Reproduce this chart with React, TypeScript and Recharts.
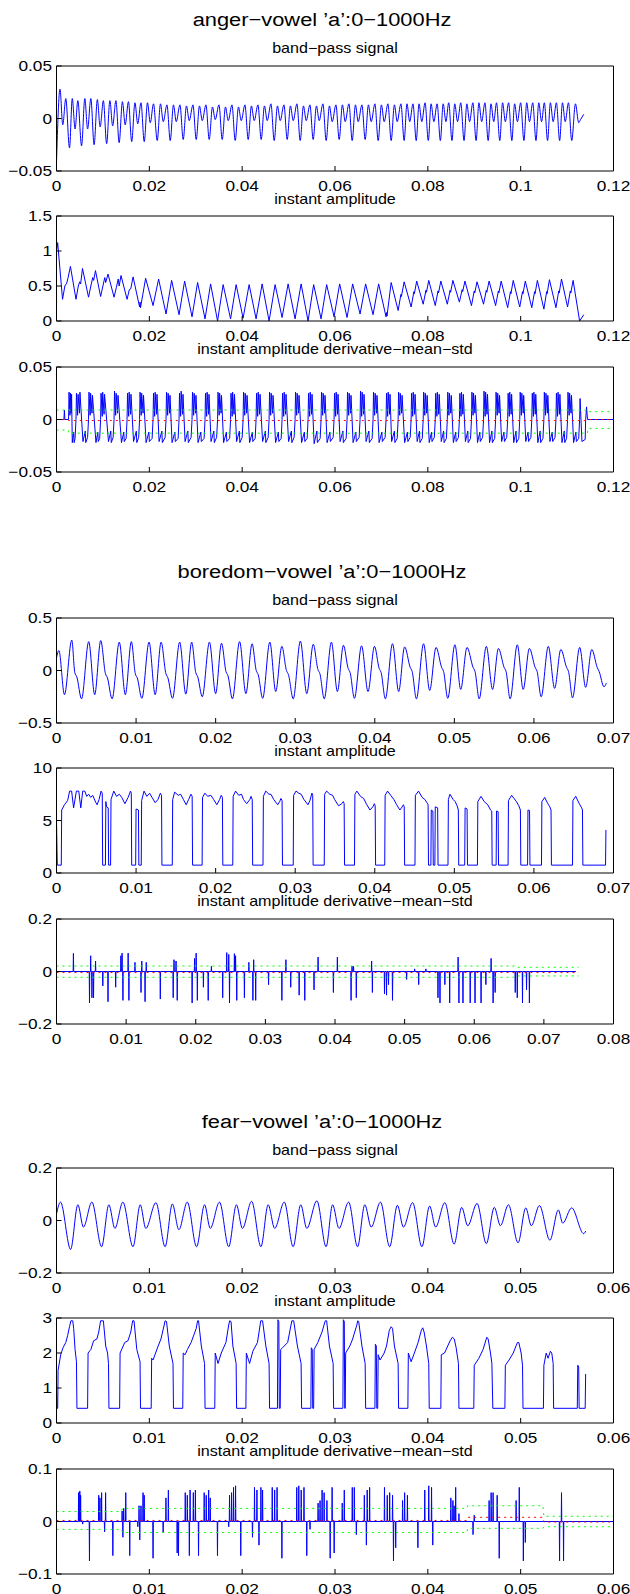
import React from 'react';
import { LineChart, Line, XAxis, YAxis } from 'recharts';

type Pt = [number, number]; // [time in ms, value]

// ---------- anger ----------
const angerBand: Pt[] = [
  [0, -0.042], [0.75, 0.028], [1.35, -0.006], [2.0, 0.019],
  [2.8, -0.028], [3.4, 0.019], [4.0, -0.01], [4.6, 0.017],
  [5.4, -0.026], [6.1, 0.019], [6.7, -0.01], [7.4, 0.019],
  [8.1, -0.025], [8.8, 0.018], [9.4, -0.008], [10.1, 0.017],
  [10.8, -0.024], [11.5, 0.017], [12.1, -0.007], [12.8, 0.017],
  [13.5, -0.023], [14.2, 0.016], [14.8, -0.006], [15.5, 0.016],
  [16.2, -0.022], [16.9, 0.015], [17.5, -0.005], [18.2, 0.015],
  [18.9, -0.022], [19.6, 0.015], [20.2, -0.004], [20.9, 0.014],
  [21.7, -0.021], [22.4, 0.014], [23.0, -0.003], [23.8, 0.013],
  [24.5, -0.021], [25.2, 0.013], [25.8, -0.003], [26.6, 0.013],
  [27.3, -0.02], [28.0, 0.012], [28.6, -0.002], [29.4, 0.013],
  [30.1, -0.02], [30.8, 0.012], [31.4, -0.002], [32.2, 0.013],
  [32.9, -0.02], [33.6, 0.011], [34.2, -0.001], [35.0, 0.013],
  [35.7, -0.02], [36.4, 0.011], [37.0, -0.002], [37.8, 0.013],
  [38.5, -0.021], [39.2, 0.011], [39.8, -0.002], [40.6, 0.013],
  [41.3, -0.02], [42.0, 0.012], [42.6, -0.002], [43.4, 0.013],
  [44.1, -0.02], [44.8, 0.012], [45.4, -0.002], [46.2, 0.014],
  [46.9, -0.021], [47.6, 0.012], [48.2, -0.002], [49.0, 0.013],
  [49.7, -0.02], [50.4, 0.012], [51.0, -0.002], [51.8, 0.014],
  [52.5, -0.021], [53.2, 0.012], [53.8, -0.002], [54.6, 0.013],
  [55.3, -0.02], [56.0, 0.012], [56.6, -0.002], [57.4, 0.014],
  [58.1, -0.021], [58.8, 0.012], [59.4, -0.003], [60.2, 0.013],
  [60.9, -0.02], [61.6, 0.013], [62.2, -0.003], [63.0, 0.014],
  [63.7, -0.021], [64.4, 0.013], [65.0, -0.003], [65.8, 0.013],
  [66.5, -0.02], [67.2, 0.013], [67.8, -0.003], [68.6, 0.014],
  [69.3, -0.021], [70.0, 0.013], [70.6, -0.003], [71.4, 0.014],
  [72.1, -0.021], [72.8, 0.013], [73.4, -0.003], [74.2, 0.014],
  [74.9, -0.021], [75.5, 0.014], [76.1, -0.003], [76.8, 0.014],
  [77.5, -0.021], [78.1, 0.014], [78.7, -0.003], [79.4, 0.015],
  [80.1, -0.021], [80.7, 0.014], [81.3, -0.003], [82.0, 0.014],
  [82.7, -0.021], [83.3, 0.014], [83.9, -0.003], [84.5, 0.015],
  [85.2, -0.021], [85.8, 0.014], [86.4, -0.003], [87.1, 0.015],
  [87.8, -0.021], [88.4, 0.014], [89.0, -0.003], [89.7, 0.015],
  [90.4, -0.021], [91.0, 0.015], [91.6, -0.003], [92.3, 0.015],
  [93.0, -0.021], [93.6, 0.014], [94.2, -0.003], [94.8, 0.015],
  [95.5, -0.021], [96.1, 0.015], [96.7, -0.003], [97.4, 0.015],
  [98.1, -0.021], [98.7, 0.014], [99.3, -0.003], [100.0, 0.015],
  [100.7, -0.021], [101.3, 0.015], [101.9, -0.003], [102.6, 0.015],
  [103.3, -0.021], [103.9, 0.015], [104.5, -0.003], [105.1, 0.015],
  [105.8, -0.021], [106.4, 0.015], [107.0, -0.003], [107.7, 0.015],
  [108.4, -0.021], [109.0, 0.015], [109.6, -0.003], [110.3, 0.015],
  [111.0, -0.021], [111.8, 0.014], [112.5, -0.004], [112.9, -0.001], [113.6, 0.004],
];

const angerAmp: Pt[] = [
  [0, 1.0], [0.25, 1.12], [1.3, 0.31], [1.8, 0.5], [2.2, 0.54], [2.5, 0.62], [3.0, 0.78],
  [4.2, 0.31], [4.7, 0.5], [5.0, 0.56], [5.2, 0.53], [5.6, 0.75],
  [6.9, 0.34], [7.4, 0.5], [7.8, 0.62], [8.0, 0.58], [8.4, 0.72],
  [9.5, 0.35], [10.0, 0.5], [10.4, 0.62], [10.6, 0.55], [11.1, 0.67],
  [12.4, 0.34], [12.9, 0.48], [13.3, 0.6], [13.5, 0.5], [13.9, 0.65],
  [15.2, 0.31], [15.7, 0.45], [16.0, 0.46], [16.5, 0.63],
  [17.9, 0.2], [18.0, 0.27], [18.1, 0.19], [18.6, 0.38], [19.2, 0.61],
  [20.8, 0.22], [22.0, 0.6], [23.6, 0.1], [24.8, 0.58], [26.4, 0.09], [27.6, 0.57],
  [29.2, 0.06], [30.4, 0.55], [32.0, 0.03], [33.2, 0.53], [34.7, 0], [35.9, 0.52],
  [37.5, 0.03], [38.7, 0.52], [40.2, 0.04], [41.5, 0.52], [43.0, 0.03], [44.3, 0.53],
  [45.8, 0], [47.1, 0.52], [48.6, 0.05], [49.9, 0.53], [51.4, 0.03], [52.7, 0.53],
  [54.2, 0], [55.4, 0.52], [57.0, 0.03], [58.2, 0.52], [59.8, 0.06], [61.0, 0.53],
  [62.6, 0.05], [63.8, 0.53], [65.4, 0.1], [66.6, 0.53], [68.2, 0.09], [69.4, 0.53],
  [71.0, 0.06], [71.1, 0.12], [71.2, 0.07], [72.1, 0.55],
  [73.6, 0.15], [74.2, 0.38], [74.3, 0.35], [74.9, 0.56],
  [76.4, 0.2], [77.0, 0.42], [77.1, 0.39], [77.6, 0.57],
  [79.0, 0.24], [79.6, 0.44], [79.7, 0.41], [80.2, 0.58],
  [81.6, 0.22], [82.2, 0.43], [82.3, 0.4], [82.8, 0.57],
  [84.2, 0.24], [84.8, 0.44], [84.9, 0.41], [85.4, 0.58],
  [86.8, 0.27], [87.4, 0.45], [87.5, 0.42], [88.0, 0.57],
  [89.4, 0.22], [90.0, 0.43], [90.1, 0.4], [90.6, 0.56],
  [92.0, 0.24], [92.6, 0.44], [92.7, 0.41], [93.2, 0.57],
  [94.6, 0.22], [95.2, 0.43], [95.3, 0.4], [95.8, 0.57],
  [97.2, 0.19], [97.8, 0.42], [97.9, 0.39], [98.4, 0.58],
  [99.8, 0.2], [100.4, 0.42], [100.5, 0.39], [101.0, 0.57],
  [102.4, 0.19], [103.0, 0.42], [103.1, 0.39], [103.6, 0.58],
  [105.0, 0.17], [105.6, 0.42], [105.7, 0.39], [106.2, 0.59],
  [107.6, 0.19], [108.2, 0.43], [108.3, 0.4], [108.8, 0.6],
  [110.1, 0.2], [110.7, 0.43], [110.8, 0.4], [111.3, 0.58],
  [112.7, 0], [113.6, 0.09],
];

const angerDeriv: Pt[] = [
  [0, 0], [1.6, 0], [1.7, 0.009], [1.8, 0],
  [2.6, 0], [2.7, 0.026], [2.9, 0.004], [3.0, 0.025], [3.15, 0.006], [3.25, 0.024], [3.4, -0.022], [3.7, -0.012], [3.8, -0.022], [4.0, -0.018],
  [4.2, 0], [4.3, 0.025], [4.55, 0.004], [4.65, 0.024], [4.95, 0.006], [5.05, 0.026], [5.7, -0.021], [6.2, -0.011], [6.3, -0.022], [6.7, -0.017],
  [6.9, 0], [7.0, 0.026], [7.25, 0.004], [7.35, 0.025], [7.65, 0.006], [7.75, 0.023], [8.5, -0.022], [8.9, -0.012], [9.0, -0.021], [9.3, -0.018],
  [9.5, 0], [9.6, 0.025], [9.85, 0.003], [9.95, 0.026], [10.25, 0.005], [10.35, 0.024], [11.2, -0.021], [11.7, -0.011], [11.8, -0.022], [12.2, -0.017],
  [12.4, 0], [12.5, 0.027], [12.75, 0.004], [12.85, 0.025], [13.15, 0.006], [13.25, 0.023], [14.0, -0.022], [14.5, -0.012], [14.6, -0.021], [15.0, -0.018],
  [15.2, 0], [15.3, 0.025], [15.55, 0.003], [15.65, 0.026], [15.95, 0.005], [16.05, 0.024], [16.6, -0.021], [17.2, -0.011], [17.3, -0.022], [17.7, -0.017],
  [17.9, 0], [18.0, 0.026], [18.25, 0.004], [18.35, 0.025], [18.65, 0.006], [18.75, 0.023], [19.3, -0.022], [19.9, -0.012], [20.0, -0.021], [20.6, -0.018],
  [20.8, 0], [20.9, 0.025], [21.15, 0.003], [21.25, 0.026], [21.55, 0.005], [21.65, 0.024], [22.1, -0.021], [22.7, -0.011], [22.8, -0.022], [23.4, -0.017],
  [23.6, 0], [23.7, 0.026], [23.95, 0.004], [24.05, 0.025], [24.35, 0.006], [24.45, 0.023], [24.9, -0.022], [25.5, -0.012], [25.6, -0.021], [26.2, -0.018],
  [26.4, 0], [26.5, 0.025], [26.75, 0.003], [26.85, 0.027], [27.15, 0.005], [27.25, 0.024], [27.7, -0.021], [28.3, -0.011], [28.4, -0.022], [29.0, -0.017],
  [29.2, 0], [29.3, 0.026], [29.55, 0.004], [29.65, 0.025], [29.95, 0.006], [30.05, 0.023], [30.5, -0.022], [31.1, -0.012], [31.2, -0.021], [31.8, -0.018],
  [32.0, 0], [32.1, 0.025], [32.35, 0.003], [32.45, 0.026], [32.75, 0.005], [32.85, 0.024], [33.3, -0.021], [33.9, -0.011], [34.0, -0.022], [34.5, -0.017],
  [34.7, 0], [34.8, 0.026], [35.05, 0.004], [35.15, 0.025], [35.45, 0.006], [35.55, 0.023], [36.0, -0.022], [36.6, -0.012], [36.7, -0.021], [37.3, -0.018],
  [37.5, 0], [37.6, 0.025], [37.85, 0.003], [37.95, 0.026], [38.25, 0.005], [38.35, 0.024], [38.8, -0.021], [39.4, -0.011], [39.5, -0.022], [40.0, -0.017],
  [40.2, 0], [40.3, 0.026], [40.55, 0.004], [40.65, 0.025], [40.95, 0.006], [41.05, 0.023], [41.6, -0.022], [42.2, -0.012], [42.3, -0.021], [42.8, -0.018],
  [43.0, 0], [43.1, 0.025], [43.35, 0.003], [43.45, 0.026], [43.75, 0.005], [43.85, 0.024], [44.4, -0.021], [45.0, -0.011], [45.1, -0.022], [45.6, -0.017],
  [45.8, 0], [45.9, 0.026], [46.15, 0.004], [46.25, 0.025], [46.55, 0.006], [46.65, 0.023], [47.2, -0.022], [47.8, -0.012], [47.9, -0.021], [48.4, -0.018],
  [48.6, 0], [48.7, 0.025], [48.95, 0.003], [49.05, 0.026], [49.35, 0.005], [49.45, 0.024], [50.0, -0.021], [50.6, -0.011], [50.7, -0.022], [51.2, -0.017],
  [51.4, 0], [51.5, 0.026], [51.75, 0.004], [51.85, 0.025], [52.15, 0.006], [52.25, 0.023], [52.8, -0.022], [53.4, -0.012], [53.5, -0.021], [54.0, -0.018],
  [54.2, 0], [54.3, 0.025], [54.55, 0.003], [54.65, 0.026], [54.95, 0.005], [55.05, 0.024], [55.5, -0.023], [56.1, -0.011], [56.2, -0.022], [56.8, -0.018],
  [57.0, 0], [57.1, 0.026], [57.35, 0.004], [57.45, 0.025], [57.75, 0.006], [57.85, 0.023], [58.3, -0.022], [58.9, -0.012], [59.0, -0.021], [59.6, -0.017],
  [59.8, 0], [59.9, 0.025], [60.15, 0.003], [60.25, 0.026], [60.55, 0.005], [60.65, 0.024], [61.1, -0.021], [61.7, -0.011], [61.8, -0.022], [62.4, -0.018],
  [62.6, 0], [62.7, 0.026], [62.95, 0.004], [63.05, 0.025], [63.35, 0.006], [63.45, 0.023], [63.9, -0.022], [64.5, -0.012], [64.6, -0.021], [65.2, -0.017],
  [65.4, 0], [65.5, 0.027], [65.75, 0.003], [65.85, 0.026], [66.15, 0.005], [66.25, 0.024], [66.7, -0.021], [67.3, -0.011], [67.4, -0.022], [68.0, -0.018],
  [68.2, 0], [68.3, 0.026], [68.55, 0.004], [68.65, 0.025], [68.95, 0.006], [69.05, 0.023], [69.5, -0.022], [70.1, -0.012], [70.2, -0.021], [70.8, -0.017],
  [71.0, 0], [71.1, 0.025], [71.35, 0.003], [71.45, 0.026], [71.75, 0.005], [71.85, 0.024], [72.2, -0.021], [72.8, -0.011], [72.9, -0.022], [73.4, -0.018],
  [73.6, 0], [73.7, 0.026], [73.95, 0.004], [74.05, 0.025], [74.35, 0.006], [74.45, 0.023], [75.0, -0.022], [75.6, -0.012], [75.7, -0.021], [76.2, -0.017],
  [76.4, 0], [76.5, 0.025], [76.75, 0.003], [76.85, 0.026], [77.15, 0.005], [77.25, 0.024], [77.7, -0.021], [78.2, -0.011], [78.3, -0.022], [78.8, -0.018],
  [79.0, 0], [79.1, 0.026], [79.35, 0.004], [79.45, 0.025], [79.75, 0.006], [79.85, 0.023], [80.3, -0.022], [80.8, -0.012], [80.9, -0.021], [81.4, -0.017],
  [81.6, 0], [81.7, 0.025], [81.95, 0.003], [82.05, 0.026], [82.35, 0.005], [82.45, 0.024], [82.9, -0.021], [83.4, -0.011], [83.5, -0.022], [84.0, -0.018],
  [84.2, 0], [84.3, 0.026], [84.55, 0.004], [84.65, 0.025], [84.95, 0.006], [85.05, 0.023], [85.5, -0.022], [86.0, -0.012], [86.1, -0.021], [86.6, -0.017],
  [86.8, 0], [86.9, 0.025], [87.15, 0.003], [87.25, 0.026], [87.55, 0.005], [87.65, 0.024], [88.1, -0.021], [88.6, -0.011], [88.7, -0.022], [89.2, -0.018],
  [89.4, 0], [89.5, 0.026], [89.75, 0.004], [89.85, 0.025], [90.15, 0.006], [90.25, 0.023], [90.7, -0.022], [91.2, -0.012], [91.3, -0.021], [91.8, -0.017],
  [92.0, 0], [92.1, 0.027], [92.35, 0.003], [92.45, 0.026], [92.75, 0.005], [92.85, 0.024], [93.3, -0.022], [93.8, -0.011], [93.9, -0.022], [94.4, -0.018],
  [94.6, 0], [94.7, 0.026], [94.95, 0.004], [95.05, 0.025], [95.35, 0.006], [95.45, 0.023], [95.9, -0.021], [96.4, -0.012], [96.5, -0.021], [97.0, -0.017],
  [97.2, 0], [97.3, 0.025], [97.55, 0.003], [97.65, 0.026], [97.95, 0.005], [98.05, 0.024], [98.5, -0.022], [99.0, -0.011], [99.1, -0.022], [99.6, -0.018],
  [99.8, 0], [99.9, 0.026], [100.15, 0.004], [100.25, 0.025], [100.55, 0.006], [100.65, 0.023], [101.1, -0.021], [101.6, -0.012], [101.7, -0.021], [102.2, -0.017],
  [102.4, 0], [102.5, 0.025], [102.75, 0.003], [102.85, 0.026], [103.15, 0.005], [103.25, 0.024], [103.7, -0.022], [104.2, -0.011], [104.3, -0.022], [104.8, -0.018],
  [105.0, 0], [105.1, 0.026], [105.35, 0.004], [105.45, 0.025], [105.75, 0.006], [105.85, 0.023], [106.3, -0.021], [106.8, -0.012], [106.9, -0.021], [107.4, -0.017],
  [107.6, 0], [107.7, 0.025], [107.95, 0.003], [108.05, 0.026], [108.35, 0.005], [108.45, 0.024], [108.9, -0.022], [109.4, -0.011], [109.5, -0.022], [109.9, -0.018],
  [110.1, 0], [110.2, 0.026], [110.45, 0.004], [110.55, 0.025], [110.85, 0.006], [110.95, 0.023], [111.4, -0.022], [111.9, -0.012], [112.0, -0.021], [112.5, -0.018],
  [112.7, 0], [112.8, 0.02], [113.2, -0.021], [113.9, -0.019], [114.0, 0], [114.2, 0.012], [114.4, 0], [120, 0],
];
const angerMean: Pt[] = [[0, 0], [2.5, 0], [2.6, -0.001], [114.4, -0.001], [114.5, 0], [120, 0]];
const angerUpper: Pt[] = [[0, 0.009], [114.4, 0.009], [114.5, 0.0075], [120, 0.0075]];
const angerLower: Pt[] = [[0, -0.01], [2.5, -0.01], [2.6, -0.013], [114.4, -0.013], [114.5, -0.0085], [120, -0.0085]];

// ---------- boredom ----------
const boredBand: Pt[] = [
  [0, 0.12], [0.3, 0.19], [1.0, -0.23], [1.92, 0.29], [2.3, -0.02], [2.55, -0.06],
  [3.15, -0.27], [4.05, 0.275], [4.8, -0.23], [5.56, 0.285], [6.15, -0.03], [6.4, -0.07],
  [6.99, -0.27], [7.89, 0.27], [8.65, -0.23], [9.41, 0.275], [9.9, -0.03], [10.15, -0.07],
  [10.73, -0.265], [11.63, 0.27], [12.4, -0.23], [13.15, 0.27], [13.75, -0.03], [14.0, -0.07],
  [14.58, -0.265], [15.48, 0.27], [16.25, -0.225], [16.99, 0.27], [17.5, -0.02], [17.75, -0.06],
  [18.32, -0.25], [19.22, 0.27], [20.0, -0.22], [20.74, 0.26], [21.3, -0.01], [21.55, -0.05],
  [22.11, -0.27], [23.01, 0.275], [23.8, -0.22], [24.58, 0.255], [25.1, 0], [25.35, -0.04],
  [25.91, -0.265], [26.81, 0.27], [27.55, -0.2], [28.32, 0.23], [28.9, 0], [29.15, -0.04],
  [29.75, -0.27], [30.65, 0.28], [31.45, -0.22], [32.27, 0.25], [32.85, 0.01], [33.1, -0.03],
  [33.65, -0.27], [34.55, 0.27], [35.3, -0.2], [36.06, 0.24], [36.65, 0.02], [36.9, -0.02],
  [37.44, -0.265], [38.34, 0.235], [39.15, -0.2], [39.96, 0.23], [40.55, 0.02], [40.8, -0.02],
  [41.33, -0.27], [42.23, 0.255], [43.0, -0.2], [43.75, 0.225], [44.45, 0.03], [44.7, -0.01],
  [45.23, -0.27], [46.13, 0.255], [46.9, -0.19], [47.7, 0.22], [48.4, 0.03], [48.65, -0.01],
  [49.17, -0.265], [50.07, 0.245], [50.8, -0.18], [51.59, 0.22], [52.35, 0.03], [52.6, -0.01],
  [53.12, -0.27], [54.02, 0.23], [54.8, -0.18], [55.54, 0.21], [56.25, 0.03], [56.5, -0.01],
  [57.01, -0.27], [57.91, 0.245], [58.65, -0.18], [59.43, 0.21], [60.15, 0.03], [60.4, -0.01],
  [60.91, -0.25], [61.81, 0.23], [62.6, -0.17], [63.38, 0.2], [64.1, 0.03], [64.35, -0.01],
  [64.85, -0.26], [65.75, 0.22], [66.5, -0.16], [67.27, 0.2], [67.95, 0.03], [68.2, -0.01],
  [68.8, -0.155], [69.1, -0.12],
];

const boredAmp: Pt[] = [
  [0, 5.0], [0.1, 0.75], [0.6, 0.75], [0.65, 6.0], [1.0, 6.5], [1.4, 6.9], [1.65, 7.8], [1.9, 7.8], [2.15, 6.2], [2.5, 7.8], [2.8, 7.8], [3.05, 6.2], [3.3, 7.8], [3.55, 7.8], [3.8, 7.3], [4.05, 7.5], [4.3, 7.2], [4.55, 7.4], [4.95, 6.7], [5.1, 6.5], [5.35, 7.0], [5.6, 7.8], [5.75, 7.6], [5.8, 0.75],
  [6.15, 0.75], [6.2, 6.8], [6.3, 6.3], [6.5, 6.2], [6.55, 0.75],
  [6.8, 0.75], [6.85, 7.0], [7.2, 7.8], [7.55, 7.3], [7.9, 7.5], [8.2, 7.2], [8.6, 6.6], [9.0, 7.2], [9.3, 7.8], [9.4, 7.6], [9.45, 0.75],
  [9.95, 0.75], [10.0, 6.1], [10.3, 6.0], [10.35, 0.75],
  [10.65, 0.75], [10.7, 6.9], [11.0, 7.8], [11.35, 7.3], [11.7, 7.6], [12.0, 7.2], [12.4, 6.7], [12.75, 7.0], [13.05, 7.6], [13.2, 7.4], [13.25, 0.75],
  [14.55, 0.75], [14.6, 7.0], [14.85, 7.7], [15.3, 7.4], [15.6, 7.5], [15.95, 7.0], [16.3, 6.5], [16.6, 7.0], [16.9, 7.5], [17.05, 7.3], [17.1, 0.75],
  [18.3, 0.75], [18.35, 7.2], [18.65, 7.6], [19.0, 7.3], [19.4, 7.4], [19.75, 7.0], [20.15, 6.5], [20.5, 7.0], [20.7, 7.4], [20.85, 7.2], [20.9, 0.75],
  [22.15, 0.75], [22.2, 7.3], [22.5, 7.8], [22.9, 7.4], [23.25, 7.5], [23.5, 7.0], [23.9, 6.6], [24.3, 7.0], [24.45, 7.3], [24.6, 7.0], [24.65, 0.75],
  [25.95, 0.75], [26.0, 7.3], [26.3, 7.8], [26.7, 7.5], [26.95, 7.5], [27.3, 7.0], [27.8, 6.5], [28.05, 6.8], [28.2, 7.1], [28.35, 6.9], [28.4, 0.75],
  [29.75, 0.75], [29.8, 7.4], [30.1, 7.8], [30.45, 7.6], [30.75, 7.5], [31.1, 7.0], [31.6, 6.5], [31.85, 6.9], [32.1, 7.6], [32.2, 7.4], [32.25, 0.75],
  [33.65, 0.75], [33.7, 7.5], [33.95, 7.8], [34.35, 7.5], [34.7, 7.4], [34.95, 7.0], [35.45, 6.4], [35.85, 6.6], [36.05, 6.8], [36.15, 6.6], [36.2, 0.75],
  [37.45, 0.75], [37.5, 7.5], [37.75, 7.8], [38.2, 7.3], [38.6, 7.1], [39.0, 6.5], [39.4, 6.0], [39.75, 6.3], [39.95, 6.6], [40.05, 6.4], [40.1, 0.75],
  [41.25, 0.75], [41.3, 7.4], [41.6, 7.8], [42.0, 7.4], [42.4, 7.0], [42.75, 6.5], [43.15, 6.0], [43.35, 6.2], [43.6, 6.5], [43.7, 6.3], [43.75, 0.75],
  [45.05, 0.75], [45.1, 7.4], [45.5, 7.8], [45.95, 7.2], [46.3, 7.0], [46.55, 6.7], [46.7, 6.5], [46.75, 0.75],
  [47.05, 0.75], [47.1, 6.0], [47.3, 5.9], [47.35, 0.75],
  [47.55, 0.75], [47.6, 6.3], [47.9, 6.2], [47.95, 0.75],
  [49.2, 0.75], [49.25, 7.0], [49.45, 7.5], [49.85, 7.0], [50.1, 6.8], [50.35, 6.4], [50.5, 6.0], [50.55, 0.75],
  [51.3, 0.75], [51.35, 6.2], [51.6, 6.1], [51.65, 0.75],
  [52.9, 0.75], [52.95, 6.8], [53.35, 7.3], [53.75, 6.8], [54.2, 6.5], [54.55, 6.0], [54.7, 5.9], [54.75, 0.75],
  [55.25, 0.75], [55.3, 5.9], [55.5, 5.85], [55.55, 0.75],
  [56.75, 0.75], [56.8, 6.9], [57.2, 7.4], [57.8, 6.8], [58.1, 6.4], [58.3, 6.0], [58.35, 0.75],
  [59.2, 0.75], [59.25, 6.0], [59.45, 5.95], [59.5, 0.75],
  [60.95, 0.75], [61.0, 6.8], [61.35, 7.2], [61.75, 6.6], [62.0, 6.3], [62.15, 6.0], [62.2, 0.75],
  [64.85, 0.75], [64.9, 6.9], [65.25, 7.3], [65.7, 6.6], [66.0, 6.2], [66.1, 6.0], [66.15, 0.75],
  [69.0, 0.75], [69.05, 4.1],
];

// spike events [ms, value]; the trace sits at 0 between them
const boredSpikes: Pt[] = [
  [2.43, 0.069], [4.74, -0.12], [4.91, 0.06], [5.09, -0.1], [5.32, -0.1], [5.61, 0.04],
  [6.65, -0.055], [7.4, -0.115], [8.5, -0.06], [9.25, 0.06], [9.42, 0.07], [9.54, -0.11],
  [10.29, 0.07], [10.4, -0.11], [11.27, 0.035], [12.14, -0.08], [12.25, 0.04], [12.72, -0.115],
  [12.89, 0.035], [14.91, -0.105], [16.76, -0.1], [16.88, 0.045], [17.17, 0.04], [17.34, -0.11],
  [19.48, -0.12], [19.83, 0.05], [20.06, 0.07], [20.23, -0.11], [21.1, -0.06], [21.79, -0.11],
  [22.25, 0.02], [23.87, -0.1], [24.45, 0.072], [24.74, 0.065], [24.85, -0.12], [25.55, 0.068],
  [25.72, 0.06], [25.89, -0.11], [26.99, -0.1], [27.63, 0.035], [28.21, -0.11], [28.32, 0.045],
  [28.61, -0.11], [30.46, -0.05], [32.37, -0.11], [32.95, 0.045], [33.64, -0.06], [34.85, -0.09],
  [35.66, -0.11], [36.99, -0.07], [37.57, 0.055], [39.77, -0.08], [40.34, 0.055], [42.31, -0.11],
  [42.45, 0.02], [42.66, 0.02], [43.06, -0.1], [45.26, 0.04], [45.37, -0.08], [47.11, -0.085],
  [47.4, -0.09], [47.69, -0.05], [48.26, -0.11], [50.29, -0.03], [51.44, 0.01], [52.02, -0.05],
  [53.06, 0.01], [54.79, -0.1], [55.08, -0.12], [55.78, -0.05], [56.47, -0.12], [57.68, 0.055],
  [57.8, -0.12], [58.38, -0.12], [59.42, -0.12], [60.11, -0.12], [60.98, -0.12], [61.67, -0.05],
  [62.42, 0.05], [62.71, -0.12], [63.0, -0.08], [65.89, -0.08], [66.18, -0.1], [66.93, -0.12],
  [67.51, -0.07], [67.92, -0.12],
];
const boredMean: Pt[] = [[0, -0.004], [75, -0.004]];
const boredUpper: Pt[] = [[0, 0.021], [66, 0.021], [66.1, 0.016], [75, 0.016]];
const boredLower: Pt[] = [[0, -0.022], [66, -0.022], [66.1, -0.017], [75, -0.017]];

// ---------- fear ----------
const fearBand: Pt[] = [
  [0, 0.025], [0.43, 0.07], [1.52, -0.11], [2.3, 0.06], [2.9, -0.025], [3.81, 0.07],
  [4.86, -0.1], [5.64, 0.06], [6.29, -0.03], [7.15, 0.07], [8.24, -0.1], [9.02, 0.06],
  [9.62, -0.03], [10.71, 0.068], [11.7, -0.1], [12.48, 0.063], [13.18, -0.035], [14.09, 0.07],
  [15.09, -0.1], [15.95, 0.06], [16.56, -0.03], [17.56, 0.07], [18.55, -0.1], [19.38, 0.06],
  [20.03, -0.03], [21.02, 0.073], [22.02, -0.1], [22.8, 0.06], [23.5, -0.03], [24.54, 0.07],
  [25.49, -0.1], [26.31, 0.06], [26.96, -0.03], [28.05, 0.075], [29.04, -0.1], [29.74, 0.06],
  [30.43, -0.03], [31.47, 0.07], [32.43, -0.1], [33.21, 0.06], [33.9, -0.025], [34.9, 0.07],
  [35.89, -0.1], [36.72, 0.058], [37.37, -0.025], [38.36, 0.068], [39.36, -0.1], [40.19, 0.055],
  [40.84, -0.025], [41.83, 0.068], [42.83, -0.09], [43.65, 0.05], [44.3, -0.02], [45.3, 0.065],
  [46.3, -0.088], [47.16, 0.05], [47.82, -0.02], [48.68, 0.06], [49.72, -0.085], [50.55, 0.048],
  [51.15, -0.02], [52.02, 0.057], [53.15, -0.075], [54.06, 0.04], [54.53, -0.01], [55.49, 0.048],
  [56.79, -0.05], [57.01, -0.04],
];

const fearAmp: Pt[] = [
  [0, 0.95], [0.06, 0.42], [0.13, 0.42], [0.17, 1.5], [0.45, 1.95], [0.7, 2.15], [1.0, 2.3], [1.2, 2.5], [1.4, 2.75], [1.55, 2.92], [1.75, 2.92], [1.85, 2.7], [2.0, 2.1], [2.15, 1.75], [2.2, 0.42],
  [3.35, 0.42], [3.4, 2.0], [3.7, 2.1], [4.0, 2.35], [4.35, 2.4], [4.55, 2.6], [4.75, 2.92], [5.05, 2.92], [5.3, 2.2], [5.5, 2.0], [5.6, 1.7], [5.65, 0.42],
  [6.8, 0.42], [6.85, 2.0], [7.35, 2.3], [7.7, 2.35], [8.0, 2.6], [8.2, 2.92], [8.35, 2.92], [8.65, 2.1], [9.0, 1.75], [9.05, 0.42],
  [10.2, 0.42], [10.25, 1.85], [10.4, 1.8], [10.95, 2.2], [11.25, 2.4], [11.6, 2.8], [11.7, 2.92], [11.85, 2.9], [12.15, 2.2], [12.55, 1.7], [12.6, 0.42],
  [13.6, 0.42], [13.65, 2.0], [13.85, 1.95], [14.1, 2.1], [14.5, 2.3], [15.05, 2.7], [15.2, 2.92], [15.3, 2.92], [15.6, 2.2], [15.95, 1.7], [16.0, 0.42],
  [17.05, 0.42], [17.1, 2.0], [17.4, 1.7], [17.75, 2.0], [18.25, 2.3], [18.55, 2.8], [18.65, 2.92], [18.8, 2.9], [19.0, 2.2], [19.35, 1.7], [19.4, 0.42],
  [20.4, 0.42], [20.45, 2.0], [20.8, 1.7], [21.15, 2.05], [21.65, 2.3], [22.0, 2.92], [22.2, 2.92], [22.55, 2.2], [22.9, 1.7], [22.95, 0.42],
  [23.8, 0.42], [23.85, 2.95], [23.95, 2.9], [24.0, 0.42],
  [24.1, 0.42], [24.15, 2.1], [24.35, 2.15], [24.9, 2.3], [25.35, 2.92], [25.55, 2.92], [25.95, 2.2], [26.35, 1.7], [26.4, 0.42],
  [27.4, 0.42], [27.45, 2.15], [27.55, 2.1], [27.6, 0.42],
  [27.7, 0.42], [27.75, 2.1], [28.15, 2.3], [28.6, 2.6], [28.95, 2.92], [29.1, 2.92], [29.4, 2.2], [29.8, 1.7], [29.85, 0.42],
  [30.85, 0.42], [30.9, 2.95], [31.0, 2.9], [31.05, 0.42],
  [31.1, 0.42], [31.15, 2.0], [31.6, 2.2], [31.9, 2.4], [32.35, 2.8], [32.45, 2.92], [32.55, 2.9], [32.9, 2.2], [33.25, 1.7], [33.3, 0.42],
  [34.3, 0.42], [34.35, 2.25], [34.45, 2.2], [34.5, 0.42],
  [34.6, 0.42], [34.65, 1.95], [34.85, 1.8], [35.3, 2.0], [35.55, 2.2], [35.85, 2.65], [36.05, 2.75], [36.2, 2.7], [36.4, 2.2], [36.8, 1.7], [36.85, 0.42],
  [37.85, 0.42], [37.9, 2.0], [38.2, 1.75], [38.55, 2.0], [38.95, 2.3], [39.3, 2.65], [39.45, 2.72], [39.6, 2.6], [39.85, 2.2], [40.1, 1.7], [40.15, 0.42],
  [41.4, 0.42], [41.45, 1.95], [41.8, 2.0], [42.4, 2.35], [42.65, 2.45], [42.85, 2.4], [43.05, 2.15], [43.3, 1.7], [43.35, 0.42],
  [44.95, 0.42], [45.0, 1.65], [45.5, 1.85], [45.95, 2.1], [46.35, 2.45], [46.5, 2.4], [46.75, 2.0], [46.9, 1.7], [47.0, 0.42],
  [48.3, 0.42], [48.35, 1.65], [48.75, 1.8], [49.2, 2.0], [49.65, 2.3], [49.8, 2.3], [50.05, 2.0], [50.2, 1.65], [50.25, 0.42],
  [52.45, 0.42], [52.5, 1.65], [52.75, 2.0], [52.95, 1.85], [53.2, 2.05], [53.35, 2.0], [53.5, 1.7], [53.55, 0.42],
  [56.1, 0.42], [56.15, 1.65], [56.25, 1.6], [56.3, 0.42],
  [56.95, 0.42], [57.0, 1.4],
];

const fearSpikes: Pt[] = [
  [2.38, 0.055], [2.51, 0.058], [2.6, 0.05], [2.82, -0.005], [3.55, -0.075], [4.55, 0.05],
  [4.68, 0.045], [4.86, 0.055], [5.18, -0.02], [5.29, 0.055], [6.07, -0.065], [7.07, 0.02],
  [7.15, -0.03], [7.24, 0.025], [7.46, 0.055], [7.89, -0.065], [8.76, -0.01], [8.89, 0.03],
  [8.97, -0.035], [9.1, 0.03], [9.32, 0.055], [9.45, 0.05], [10.4, -0.07], [11.49, -0.02],
  [11.79, 0.045], [12.05, 0.06], [13.0, -0.06], [13.14, -0.065], [13.87, 0.055], [14.09, 0.05],
  [14.31, -0.065], [14.39, 0.06], [14.74, 0.055], [14.96, 0.06], [15.3, -0.065], [15.91, 0.055],
  [16.13, 0.05], [16.39, 0.06], [16.56, 0.045], [17.34, -0.065], [18.55, -0.01], [18.64, 0.05],
  [18.86, 0.055], [19.07, 0.065], [19.29, 0.068], [19.85, -0.065], [21.11, -0.03], [21.33, 0.065],
  [21.59, 0.06], [21.81, -0.045], [22.02, 0.065], [22.2, 0.06], [23.24, 0.065], [23.5, 0.06],
  [23.76, 0.065], [24.28, -0.07], [25.88, 0.065], [26.1, 0.068], [26.36, 0.06], [26.66, 0.065],
  [26.96, -0.065], [27.31, -0.015], [28.18, 0.035], [28.39, 0.04], [28.61, 0.06], [28.83, 0.055],
  [29.13, 0.04], [29.48, -0.07], [29.69, 0.065], [29.91, -0.06], [30.78, 0.035], [31.0, 0.06],
  [31.86, 0.065], [32.08, 0.065], [32.3, -0.025], [33.16, 0.05], [33.38, -0.045], [33.47, 0.06],
  [33.73, 0.065], [35.33, 0.065], [35.63, 0.05], [35.89, 0.055], [36.2, 0.05], [36.3, -0.075],
  [36.54, -0.05], [37.28, 0.04], [37.5, 0.055], [37.8, 0.05], [38.93, -0.05], [39.67, 0.06],
  [40.1, 0.068], [40.4, 0.065], [40.53, -0.045], [42.48, 0.045], [42.7, 0.04], [42.83, 0.03],
  [43.0, 0.065], [43.35, 0.015], [44.87, -0.025], [45.0, 0.012], [46.6, 0.04], [46.82, 0.055],
  [47.03, 0.055], [47.47, 0.05], [47.69, -0.07], [49.51, 0.04], [49.85, 0.065], [50.29, -0.075],
  [50.5, -0.04], [54.19, -0.075], [54.4, 0.055], [54.62, -0.075],
];
const fearMean: Pt[] = [[0, 0.002], [44.2, 0.002], [44.3, 0.008], [52.4, 0.008], [52.5, -0.001], [60, -0.001]];
const fearUpper: Pt[] = [[0, 0.019], [7, 0.019], [7.1, 0.025], [44.2, 0.025], [44.3, 0.03], [52.4, 0.03], [52.5, 0.01], [60, 0.01]];
const fearLower: Pt[] = [[0, -0.015], [7, -0.015], [7.1, -0.021], [44.2, -0.021], [44.3, -0.013], [52.4, -0.013], [52.5, -0.01], [60, -0.01]];

// ---------- ticks ----------
const xTicks12 = [0, 0.02, 0.04, 0.06, 0.08, 0.1, 0.12];
const xTicks07 = [0, 0.01, 0.02, 0.03, 0.04, 0.05, 0.06, 0.07];
const xTicks08 = [0, 0.01, 0.02, 0.03, 0.04, 0.05, 0.06, 0.07, 0.08];
const xTicks06 = [0, 0.01, 0.02, 0.03, 0.04, 0.05, 0.06];

// ---------- layout ----------
const FONT = '"Liberation Sans", Arial, Helvetica, sans-serif';
const SX = 1.15;
const TICK_FS = 15;
const PH = 105;
const MT = 7;
const XH = 30;
const BLUE = '#0000ff';
const RED = '#ff0000';
const GREEN = '#00ff00';
const DOT = '2 4';

const rows = (pts: Pt[]) => pts.map(([ms, v]) => ({ t: ms / 1000, v }));

const spikeTrace = (spikes: Pt[], end: number, half: number): Pt[] => {
  const out: Pt[] = [[0, 0]];
  spikes.forEach(([t, v]) => out.push([t - half, 0], [t, v], [t + half, 0]));
  out.push([end, 0]);
  return out;
};

const fmt = (v: number) => (v < 0 ? '\u2212' : '') + String(Math.abs(+v.toFixed(4)));

function XTick(props: any) {
  const { x, y, payload } = props;
  return (
    <text transform={`translate(${x},${y}) scale(${SX},1)`} textAnchor="middle" dy="0.71em"
      fontSize={TICK_FS} fontFamily={FONT} fill="#000">
      {fmt(payload.value)}
    </text>
  );
}

function YTick(props: any) {
  const { x, y, payload } = props;
  return (
    <text transform={`translate(${x},${y}) scale(${SX},1)`} textAnchor="end" dy="0.355em"
      fontSize={TICK_FS} fontFamily={FONT} fill="#000">
      {fmt(payload.value)}
    </text>
  );
}

type Series = { pts: Pt[]; color?: string; dash?: string; curve?: 'linear' | 'monotone' };

function Panel({ top, xTicks, yTicks, series }: { top: number; xTicks: number[]; yTicks: number[]; series: Series[] }) {
  const xDom = [xTicks[0], xTicks[xTicks.length - 1]];
  const yDom = [yTicks[0], yTicks[yTicks.length - 1]];
  return (
    <div style={{ position: 'absolute', left: 0, top: top - MT - 1 }}>
      <LineChart width={630} height={MT + 1 + PH + XH} margin={{ top: MT, right: 15.5, bottom: 0, left: 0 }}>
        <XAxis xAxisId="b" type="number" dataKey="t" domain={xDom} ticks={xTicks} interval={0}
          allowDataOverflow height={XH} tickSize={-5} tickMargin={14} stroke="#000"
          tick={(p: any) => <XTick {...p} />} />
        <XAxis xAxisId="t" orientation="top" type="number" dataKey="t" domain={xDom} ticks={xTicks}
          interval={0} allowDataOverflow height={1} tickSize={-5} tick={false} stroke="#000" />
        <YAxis yAxisId="l" type="number" domain={yDom} ticks={yTicks} interval={0} allowDataOverflow
          width={56.5} tickSize={-5} tickMargin={9.5} stroke="#000"
          tick={(p: any) => <YTick {...p} />} />
        <YAxis yAxisId="r" orientation="right" type="number" domain={yDom} ticks={yTicks} interval={0}
          allowDataOverflow width={1} tickSize={-5} tick={false} stroke="#000" />
        {series.map((s, i) => (
          <Line key={i} xAxisId="b" yAxisId="l" data={rows(s.pts)} dataKey="v"
            type={s.curve ?? 'linear'} stroke={s.color ?? BLUE} strokeWidth={1}
            strokeDasharray={s.dash} dot={false} activeDot={false} isAnimationActive={false} />
        ))}
      </LineChart>
    </div>
  );
}

const groups = [
  { name: 'anger', top: 65.5 },
  { name: 'boredom', top: 617.5 },
  { name: 'fear', top: 1167.5 },
];
const SUBS = ['band\u2212pass signal', 'instant amplitude', 'instant amplitude derivative\u2212mean\u2212std'];
const GAP = 150.5;

export default function App() {
  const tops = groups.map((g) => [g.top, g.top + GAP, g.top + 2 * GAP]);
  return (
    <div style={{ position: 'absolute', left: 0, top: 0, width: 630, height: 1594, background: '#fff' }}>
      <Panel top={tops[0][0]} xTicks={xTicks12} yTicks={[-0.05, 0, 0.05]}
        series={[{ pts: angerBand, curve: 'monotone' }]} />
      <Panel top={tops[0][1]} xTicks={xTicks12} yTicks={[0, 0.5, 1, 1.5]}
        series={[{ pts: angerAmp }]} />
      <Panel top={tops[0][2]} xTicks={xTicks12} yTicks={[-0.05, 0, 0.05]}
        series={[
          { pts: angerDeriv },
          { pts: angerMean, color: RED, dash: DOT },
          { pts: angerUpper, color: GREEN, dash: DOT },
          { pts: angerLower, color: GREEN, dash: DOT },
        ]} />

      <Panel top={tops[1][0]} xTicks={xTicks07} yTicks={[-0.5, 0, 0.5]}
        series={[{ pts: boredBand, curve: 'monotone' }]} />
      <Panel top={tops[1][1]} xTicks={xTicks07} yTicks={[0, 5, 10]}
        series={[{ pts: boredAmp }]} />
      <Panel top={tops[1][2]} xTicks={xTicks08} yTicks={[-0.2, 0, 0.2]}
        series={[
          { pts: spikeTrace(boredSpikes, 74.6, 0.04) },
          { pts: boredMean, color: RED, dash: DOT },
          { pts: boredUpper, color: GREEN, dash: DOT },
          { pts: boredLower, color: GREEN, dash: DOT },
        ]} />

      <Panel top={tops[2][0]} xTicks={xTicks06} yTicks={[-0.2, 0, 0.2]}
        series={[{ pts: fearBand, curve: 'monotone' }]} />
      <Panel top={tops[2][1]} xTicks={xTicks06} yTicks={[0, 1, 2, 3]}
        series={[{ pts: fearAmp }]} />
      <Panel top={tops[2][2]} xTicks={xTicks06} yTicks={[-0.1, 0, 0.1]}
        series={[
          { pts: spikeTrace(fearSpikes, 60, 0.03) },
          { pts: fearMean, color: RED, dash: DOT },
          { pts: fearUpper, color: GREEN, dash: DOT },
          { pts: fearLower, color: GREEN, dash: DOT },
        ]} />

      <svg width={630} height={1594} style={{ position: 'absolute', left: 0, top: 0, pointerEvents: 'none' }}>
        {groups.map((g, gi) => (
          <g key={g.name}>
            <text transform={`translate(322,${g.top - 40}) scale(${SX},1)`} textAnchor="middle"
              fontSize={19} fontFamily={FONT} fill="#000">
              {`${g.name}\u2212vowel \u2019a\u2019:0\u22121000Hz`}
            </text>
            {SUBS.map((s, si) => (
              <text key={s} transform={`translate(335,${tops[gi][si] - 12.5}) scale(${SX},1)`}
                textAnchor="middle" fontSize={14} fontFamily={FONT} fill="#000">
                {s}
              </text>
            ))}
          </g>
        ))}
      </svg>
    </div>
  );
}
